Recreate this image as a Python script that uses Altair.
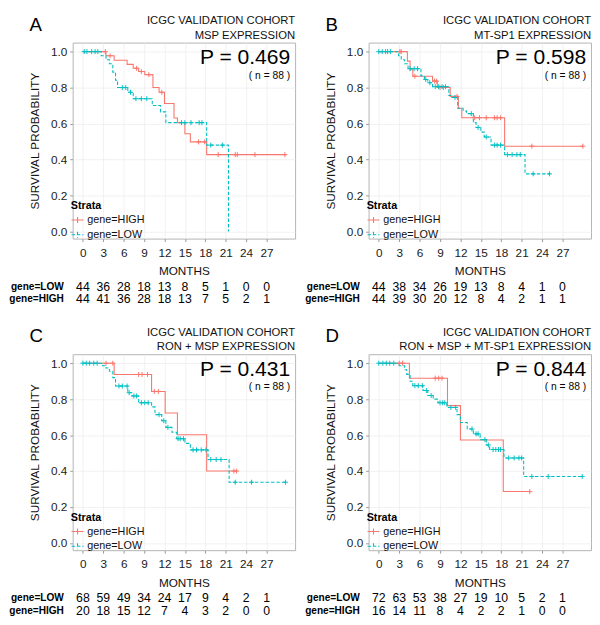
import altair as alt
import pandas as pd

RED = "#F8766D"
TEAL = "#00BFC4"
FONT = "Liberation Sans"
W, H = 227, 200

months = [0, 3, 6, 9, 12, 15, 18, 21, 24, 27]
y_ticks = [0.0, 0.2, 0.4, 0.6, 0.8, 1.0]
strata = ["gene=HIGH", "gene=LOW"]

letters = ["A", "B", "C", "D"]
titles = ["MSP EXPRESSION", "MT-SP1 EXPRESSION", "RON + MSP EXPRESSION",
          "RON + MSP + MT-SP1 EXPRESSION"]
pvals = ["P = 0.469", "P = 0.598", "P = 0.431", "P = 0.844"]

# ---- Panel A ----
A_high_t = [0, 3.4, 4.6, 6.5, 7.4, 8.2, 9.1, 10.3, 11.2, 12.0, 13.4, 13.9, 15.0, 15.8, 18.2, 29.9]
A_high_s = [1.0, 0.977, 0.952, 0.929, 0.907, 0.889, 0.872, 0.80, 0.774, 0.711, 0.631, 0.605, 0.543, 0.498, 0.427, 0.427]
A_high_ct = [3.3, 4.0, 7.9, 8.6, 9.7, 11.6, 17.0, 17.9, 19.9, 22.4, 22.7, 25.3, 29.7]
A_high_cs = [1.0, 0.977, 0.907, 0.889, 0.872, 0.774, 0.498, 0.498, 0.427, 0.427, 0.427, 0.427, 0.427]
A_low_t = [0, 2.7, 3.4, 3.9, 4.4, 4.8, 5.1, 6.6, 7.4, 10.2, 11.4, 12.2, 18.2, 21.4]
A_low_s = [1.0, 0.977, 0.955, 0.932, 0.886, 0.841, 0.80, 0.774, 0.738, 0.70, 0.665, 0.605, 0.48, 0.0]
A_low_ct = [0.2, 0.6, 1.3, 1.8, 2.2, 5.8, 6.3, 7.0, 7.8, 8.6, 9.4, 14.5, 15.0, 15.9, 17.1, 17.5, 18.8, 20.5]
A_low_cs = [1.0, 1.0, 1.0, 1.0, 1.0, 0.80, 0.80, 0.774, 0.738, 0.738, 0.738, 0.605, 0.605, 0.605, 0.605, 0.605, 0.48, 0.48]
A_risk_low = [44, 36, 28, 18, 13, 8, 5, 1, 0, 0]
A_risk_high = [44, 41, 36, 28, 18, 13, 7, 5, 2, 1]

# ---- Panel B ----
B_high_t = [0, 4.2, 4.6, 5.0, 7.9, 8.6, 10.5, 11.7, 12.2, 18.5, 30.1]
B_high_s = [1.0, 0.947, 0.899, 0.863, 0.836, 0.80, 0.751, 0.685, 0.632, 0.474, 0.474]
B_high_ct = [3.1, 3.3, 5.3, 8.2, 8.5, 9.0, 9.5, 11.5, 14.1, 14.8, 15.8, 17.0, 17.4, 17.9, 22.5, 30.0]
B_high_cs = [1.0, 1.0, 0.863, 0.836, 0.836, 0.80, 0.80, 0.751, 0.632, 0.632, 0.632, 0.632, 0.632, 0.632, 0.474, 0.474]
B_low_t = [0, 2.9, 3.3, 3.8, 4.3, 6.2, 6.7, 7.2, 7.9, 10.3, 10.7, 11.6, 12.4, 12.9, 13.9, 14.3, 15.0, 15.5, 16.5, 18.5, 21.5, 25.2]
B_low_s = [1.0, 0.977, 0.955, 0.932, 0.905, 0.865, 0.845, 0.827, 0.805, 0.756, 0.745, 0.685, 0.67, 0.655, 0.605, 0.578, 0.552, 0.525, 0.48, 0.427, 0.32, 0.32]
B_low_ct = [0, 0.5, 1.0, 1.3, 1.7, 4.6, 5.2, 5.7, 6.9, 7.5, 8.3, 8.8, 9.3, 9.8, 11.2, 13.6, 14.6, 15.8, 17.0, 17.4, 17.9, 18.9, 19.6, 20.3, 20.8, 22.7, 25.1]
B_low_cs = [1.0, 1.0, 1.0, 1.0, 1.0, 0.905, 0.905, 0.905, 0.845, 0.827, 0.805, 0.805, 0.805, 0.805, 0.745, 0.655, 0.578, 0.525, 0.48, 0.48, 0.48, 0.427, 0.427, 0.427, 0.427, 0.32, 0.32]
B_risk_low = [44, 38, 34, 26, 19, 13, 8, 4, 1, 0]
B_risk_high = [44, 39, 30, 20, 12, 8, 4, 2, 1, 1]

# ---- Panel C ----
C_high_t = [0, 4.6, 10.1, 12.1, 13.9, 18.2, 22.7]
C_high_s = [1.0, 0.9375, 0.843, 0.723, 0.602, 0.40, 0.40]
C_high_ct = [3.4, 4.4, 8.2, 8.7, 9.5, 10.5, 11.1, 22.2, 22.6]
C_high_cs = [1.0, 1.0, 0.9375, 0.9375, 0.9375, 0.843, 0.843, 0.40, 0.40]
C_low_t = [0, 2.9, 3.4, 3.9, 4.4, 4.8, 6.6, 7.2, 8.2, 10.1, 10.6, 11.6, 12.2, 13.1, 13.8, 15.0, 15.8, 18.4, 21.5, 30.0]
C_low_s = [1.0, 0.986, 0.973, 0.955, 0.92, 0.873, 0.836, 0.818, 0.78, 0.757, 0.714, 0.68, 0.643, 0.616, 0.58, 0.554, 0.518, 0.464, 0.338, 0.338]
C_low_ct = [0, 0.5, 1.0, 1.6, 2.1, 5.3, 5.8, 6.5, 6.8, 7.5, 7.9, 8.6, 9.1, 9.6, 11.2, 11.9, 12.5, 14.0, 14.3, 14.8, 16.2, 16.7, 17.4, 18.1, 18.8, 19.6, 20.3, 22.4, 24.8, 29.8]
C_low_cs = [1.0, 1.0, 1.0, 1.0, 1.0, 0.873, 0.873, 0.873, 0.836, 0.818, 0.818, 0.78, 0.78, 0.78, 0.714, 0.68, 0.643, 0.58, 0.58, 0.58, 0.518, 0.518, 0.518, 0.518, 0.464, 0.464, 0.464, 0.338, 0.338, 0.338]
C_risk_low = [68, 59, 49, 34, 24, 17, 9, 4, 2, 1]
C_risk_high = [20, 18, 15, 12, 7, 4, 3, 2, 0, 0]

# ---- Panel D ----
D_high_t = [0, 4.5, 10.1, 12.0, 18.3, 22.3]
D_high_s = [1.0, 0.9167, 0.764, 0.573, 0.286, 0.286]
D_high_ct = [3.0, 3.5, 8.3, 8.8, 9.3, 22.2]
D_high_cs = [1.0, 1.0, 0.9167, 0.9167, 0.9167, 0.286]
D_low_t = [0, 3.0, 3.8, 4.1, 4.6, 5.0, 6.5, 7.2, 8.0, 8.7, 10.0, 11.5, 12.0, 13.0, 13.9, 14.9, 15.8, 16.3, 18.4, 21.3, 30.1]
D_low_s = [1.0, 0.986, 0.964, 0.938, 0.90, 0.875, 0.848, 0.82, 0.80, 0.78, 0.754, 0.714, 0.67, 0.634, 0.607, 0.575, 0.545, 0.52, 0.473, 0.37, 0.37]
D_low_ct = [0, 0.6, 1.1, 1.6, 2.2, 5.3, 5.8, 6.4, 7.0, 7.7, 9.0, 9.4, 9.7, 10.6, 11.3, 13.7, 14.3, 14.6, 15.6, 16.1, 16.8, 17.2, 17.6, 17.9, 19.1, 19.9, 20.6, 21.0, 22.5, 24.9, 29.9]
D_low_cs = [1.0, 1.0, 1.0, 1.0, 1.0, 0.875, 0.875, 0.875, 0.848, 0.82, 0.78, 0.78, 0.78, 0.754, 0.754, 0.634, 0.607, 0.607, 0.575, 0.545, 0.52, 0.52, 0.52, 0.52, 0.473, 0.473, 0.473, 0.473, 0.37, 0.37, 0.37]
D_risk_low = [72, 63, 53, 38, 27, 19, 10, 5, 2, 1]
D_risk_high = [16, 14, 11, 8, 4, 2, 2, 1, 0, 0]


def panel(letter, subtitle, pval, ht, hs, hct, hcs, lt, ls, lct, lcs, r_low, r_high):
    curves = pd.DataFrame({
        "time": ht + lt,
        "surv": hs + ls,
        "strata": [strata[0]] * len(ht) + [strata[1]] * len(lt),
    })
    cens = pd.DataFrame({
        "time": hct + lct,
        "surv": hcs + lcs,
        "strata": [strata[0]] * len(hct) + [strata[1]] * len(lct),
    })
    x_enc = alt.X("time:Q",
                  scale=alt.Scale(domain=[-1.5, 31.2], nice=False, zero=False),
                  axis=alt.Axis(values=months, title="MONTHS", grid=True))
    y_enc = alt.Y("surv:Q",
                  scale=alt.Scale(domain=[-0.04, 1.05], nice=False, zero=False),
                  axis=alt.Axis(values=y_ticks, format=".1f", title="SURVIVAL PROBABILITY",
                                grid=True, labelPadding=3, titlePadding=9))
    leg = alt.Legend(title="Strata", orient="none", legendX=-2, legendY=H - 39,
                     titleFontSize=11, titleFont=FONT, titleFontWeight="bold",
                     titleColor="#000", titlePadding=2,
                     labelFontSize=11, labelFont=FONT, labelColor="#111",
                     labelOffset=3, rowPadding=2, padding=0,
                     symbolType="M-1,0L1,0M0,-0.5L0,0.5", symbolSize=150,
                     symbolStrokeWidth=1.1)
    lines = alt.Chart(curves).mark_line(interpolate="step-after", strokeWidth=1.1, clip=True).encode(
        x=x_enc, y=y_enc,
        color=alt.Color("strata:N", scale=alt.Scale(domain=strata, range=[RED, TEAL]), legend=leg),
        strokeDash=alt.StrokeDash("strata:N", scale=alt.Scale(domain=strata, range=[[1, 0], [3.5, 2]]),
                                  legend=leg),
        order="time:Q",
    )
    pts = alt.Chart(cens).mark_point(shape="M-1,0L1,0M0,-1L0,1", size=26, filled=False,
                                     strokeWidth=1, opacity=1).encode(
        x=x_enc, y=y_enc,
        stroke=alt.Stroke("strata:N", scale=alt.Scale(domain=strata, range=[RED, TEAL]), legend=None),
    )
    one = pd.DataFrame({"a": [0]})
    t_letter = alt.Chart(one).mark_text(text=letter, font=FONT, fontSize=19, align="left",
                                        baseline="alphabetic", color="#000").encode(
        x=alt.value(-44), y=alt.value(-12))
    t_line1 = alt.Chart(one).mark_text(text="ICGC VALIDATION COHORT", font=FONT, fontSize=11.5,
                                       align="right", baseline="alphabetic", color="#111").encode(
        x=alt.value(W), y=alt.value(-19))
    t_line2 = alt.Chart(one).mark_text(text=subtitle, font=FONT, fontSize=11.5,
                                       align="right", baseline="alphabetic", color="#111").encode(
        x=alt.value(W), y=alt.value(-4))
    t_p = alt.Chart(one).mark_text(text=pval, font=FONT, fontSize=21.5, align="right",
                                   baseline="alphabetic", color="#000").encode(
        x=alt.value(W - 5), y=alt.value(22))
    t_n = alt.Chart(one).mark_text(text="( n = 88 )", font=FONT, fontSize=10.5, align="right",
                                   baseline="alphabetic", color="#000").encode(
        x=alt.value(W - 5), y=alt.value(37))
    risk_low = alt.Chart(pd.DataFrame({"time": months, "n": r_low})).mark_text(
        font=FONT, fontSize=12.5, baseline="middle", color="#000").encode(
        x=x_enc, y=alt.value(H + 49), text="n:Q")
    risk_high = alt.Chart(pd.DataFrame({"time": months, "n": r_high})).mark_text(
        font=FONT, fontSize=12.5, baseline="middle", color="#000").encode(
        x=x_enc, y=alt.value(H + 62), text="n:Q")
    lab_low = alt.Chart(one).mark_text(text="gene=LOW", font=FONT, fontSize=10.3, fontWeight="bold",
                                       align="right", baseline="middle", color="#000").encode(
        x=alt.value(-9), y=alt.value(H + 49))
    lab_high = alt.Chart(one).mark_text(text="gene=HIGH", font=FONT, fontSize=10.3, fontWeight="bold",
                                        align="right", baseline="middle", color="#000").encode(
        x=alt.value(-9), y=alt.value(H + 62))
    return alt.layer(lines, pts, t_letter, t_line1, t_line2, t_p, t_n,
                     risk_low, risk_high, lab_low, lab_high).properties(width=W, height=H)


pA = panel(letters[0], titles[0], pvals[0], A_high_t, A_high_s, A_high_ct, A_high_cs,
           A_low_t, A_low_s, A_low_ct, A_low_cs, A_risk_low, A_risk_high)
pB = panel(letters[1], titles[1], pvals[1], B_high_t, B_high_s, B_high_ct, B_high_cs,
           B_low_t, B_low_s, B_low_ct, B_low_cs, B_risk_low, B_risk_high)
pC = panel(letters[2], titles[2], pvals[2], C_high_t, C_high_s, C_high_ct, C_high_cs,
           C_low_t, C_low_s, C_low_ct, C_low_cs, C_risk_low, C_risk_high)
pD = panel(letters[3], titles[3], pvals[3], D_high_t, D_high_s, D_high_ct, D_high_cs,
           D_low_t, D_low_s, D_low_ct, D_low_cs, D_risk_low, D_risk_high)

res = dict(color="independent", strokeDash="independent", stroke="independent")
row1 = alt.hconcat(pA, pB, spacing=8).resolve_scale(**res)
row2 = alt.hconcat(pC, pD, spacing=8).resolve_scale(**res)

chart = alt.vconcat(row1, row2, spacing=20).resolve_scale(**res).properties(
    padding=0, background="white"
).configure_view(
    stroke="#b3b3b3", strokeWidth=1
).configure_axis(
    labelFont=FONT, labelFontSize=12, labelColor="#222",
    titleFont=FONT, titleFontSize=12, titleFontWeight="normal", titleColor="#111",
    domain=False, tickColor="#999", tickSize=3, labelPadding=6, titlePadding=8,
    gridColor="#ebebeb", gridWidth=0.7
)

chart.save("out.html", embed_options={"renderer": "svg", "actions": False})
